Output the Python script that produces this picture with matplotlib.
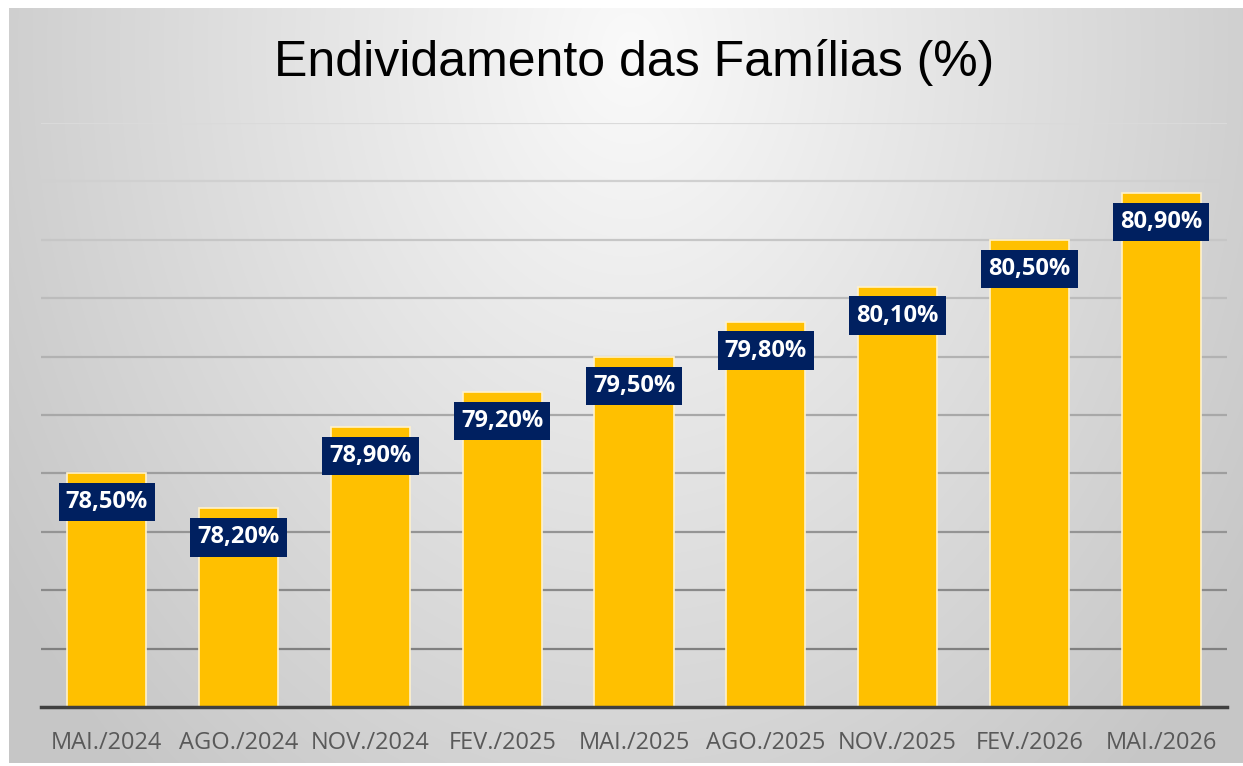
import numpy as np
import matplotlib
matplotlib.use("Agg")
import matplotlib.pyplot as plt
from matplotlib.colors import to_rgb

# ---- data ----
categories = ["MAI./2024", "AGO./2024", "NOV./2024", "FEV./2025", "MAI./2025",
              "AGO./2025", "NOV./2025", "FEV./2026", "MAI./2026"]
values = [78.5, 78.2, 78.9, 79.2, 79.5, 79.8, 80.1, 80.5, 80.9]
labels = ["78,50%", "78,20%", "78,90%", "79,20%", "79,50%",
          "79,80%", "80,10%", "80,50%", "80,90%"]
title = "Endividamento das Famílias (%)"

W, H = 1243, 766
fig = plt.figure(figsize=(W / 100, H / 100), dpi=100)
fig.patch.set_facecolor("white")

# background gradient panel
bx0, by0 = 9, 3  # px: left white border, bottom
bw, bh = W - bx0, H - 8 - by0
bg = fig.add_axes([bx0 / W, by0 / H, bw / W, bh / H], zorder=-5)
yy, xx = np.mgrid[0:bh, 0:bw]
dx = (xx + bx0 - 630) / 700.0
dy = (yy + 8 - 50) / 900.0
r = np.sqrt(dx ** 2 + dy ** 2)
val = np.clip(250 - 48 * r, 198, 252) / 255.0
img = np.dstack([val, val, val])
bg.imshow(img, aspect="auto", extent=[0, 1, 0, 1], origin="upper")
bg.axis("off")

# main axes
left, right = 41, 1227
bottom_px, top_px = 707, 123
ax = fig.add_axes([left / W, (H - bottom_px) / H, (right - left) / W,
                   (bottom_px - top_px) / H])
ax.set_facecolor("none")
ax.set_ylim(76.5, 81.5)
x = np.arange(len(categories))
ax.set_xlim(-0.5, len(categories) - 0.5)

ax.bar(x, np.array(values) - 76.5, bottom=76.5, width=0.6, color="#FFC000",
       edgecolor="#FFF2CC", linewidth=1.2, zorder=3)

# gridlines with graded colours (light at top, darker at bottom)
gridvals = np.arange(77.0, 81.51, 0.5)
c_top = np.array(to_rgb("#dadada"))
c_bot = np.array(to_rgb("#808080"))
for gv in gridvals:
    t = (gv - 77.0) / (81.5 - 77.0)
    c = c_bot * (1 - t) + c_top * t
    ax.axhline(gv, color=c, linewidth=1.6, zorder=1)

for s in ["top", "right", "left"]:
    ax.spines[s].set_visible(False)
ax.spines["bottom"].set_color("#404040")
ax.spines["bottom"].set_linewidth(2.5)
ax.spines["bottom"].set_zorder(4)
ax.set_yticks([])
ax.set_xticks(x)
ax.set_xticklabels(categories, fontsize=17, color="#595959", family="Open Sans")
ax.tick_params(axis="x", length=0, pad=17)

for xi, v, lab in zip(x, values, labels):
    ax.annotate(lab, (xi, v), xytext=(0, -29), textcoords="offset pixels",
                ha="center", va="center", fontsize=17, fontweight="bold",
                color="white", family="Open Sans", zorder=5,
                bbox=dict(boxstyle="square,pad=0.3", fc="#002060", ec="none"))

fig.text(634 / W, 1 - 63 / H, title, ha="center", va="center",
         fontsize=36, color="#000000", family="Liberation Sans")

fig.savefig("out.png", dpi=100)
